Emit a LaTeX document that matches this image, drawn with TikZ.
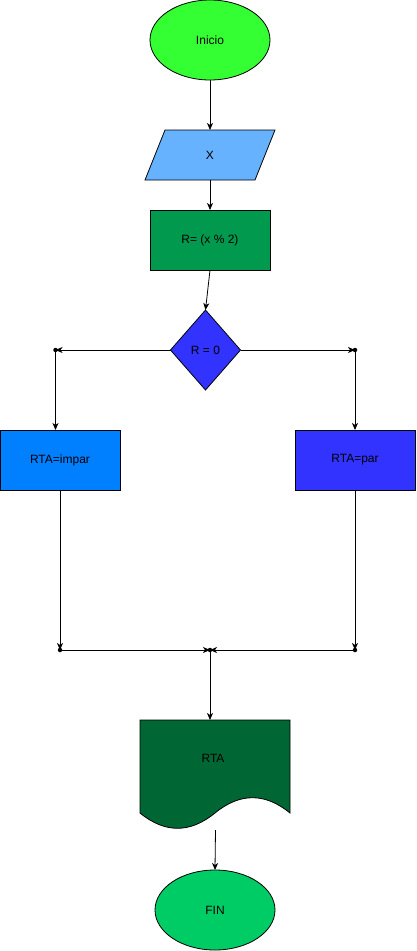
\documentclass[tikz,border=0pt]{standalone}
\usepackage{fontspec}
\setmainfont{Liberation Sans}
\usetikzlibrary{shapes.geometric,arrows.meta}
\definecolor{cInicio}{HTML}{33FF33}
\definecolor{cX}{HTML}{66B2FF}
\definecolor{cR}{HTML}{00994D}
\definecolor{cDia}{HTML}{3333FF}
\definecolor{cImpar}{HTML}{007FFF}
\definecolor{cPar}{HTML}{3333FF}
\definecolor{cDoc}{HTML}{006633}
\definecolor{cFin}{HTML}{00CC66}
\begin{document}
\begin{tikzpicture}[x=1pt,y=-1pt,
  every node/.style={font=\fontsize{12}{14}\selectfont, inner sep=0pt, outer sep=0pt},
  shapebox/.style={draw=black, line width=0.8pt},
  flow/.style={draw=black, line width=0.8pt, -{Stealth[length=7pt,width=6pt,inset=2pt]}},
  plain/.style={draw=black, line width=0.8pt},
  junc/.style={circle, fill=black, minimum size=4.5pt, inner sep=0pt}]
\useasboundingbox (0,0) rectangle (416,951);

\node[shapebox, ellipse, fill=cInicio, minimum width=120pt, minimum height=80pt] (inicio) at (210,40) {Inicio};
\path[shapebox, fill=cX] (165,130) -- (275,130) -- (255,180) -- (145,180) -- cycle;
\node (x) at (210,155) {X};
\coordinate (xtop) at (210,130);
\coordinate (xbot) at (210,180);
\node[shapebox, rectangle, fill=cR, minimum width=120pt, minimum height=60pt] (r) at (210,240) {R= (x \% 2)};
\node[shapebox, diamond, fill=cDia, minimum width=70pt, minimum height=80pt, aspect=0.875] (dia) at (205.5,350) {R = 0};
\node[shapebox, rectangle, fill=cImpar, minimum width=120pt, minimum height=60pt] (impar) at (60,460) {RTA=impar};
\node[shapebox, rectangle, fill=cPar, minimum width=120pt, minimum height=60pt] (par) at (355,460) {RTA=par};

\path[shapebox, fill=cDoc] (140,720) -- (290,720) -- (290,813)
  .. controls (265,792.6) and (240,792.6) .. (215,813)
  .. controls (190,833.4) and (165,833.4) .. (140,813) -- cycle;
\node (rta) at (213,758) {RTA};
\coordinate (doctop) at (210,720);
\coordinate (docbot) at (215.5,830);

\node[shapebox, ellipse, fill=cFin, minimum width=120pt, minimum height=80pt] (fin) at (215,910) {FIN};

\node[junc] (jl) at (55.5,350) {};
\node[junc] (jr) at (355,350) {};
\node[junc] (jbl) at (60,650) {};
\node[junc] (jbr) at (355,650) {};
\node[junc] (jm) at (210,650) {};

\draw[flow] (inicio.south) -- (xtop);
\draw[flow] (xbot) -- (r.north);
\draw[flow] (r.south) -- (dia.north);
\draw[flow] (dia.west) -- (jl.center);
\draw[flow] (dia.east) -- (jr.center);
\draw[flow] (jl.center) -- (impar.north -| jl);
\draw[flow] (jr.center) -- (par.north);
\draw[flow] (impar.south) -- (jbl.center);
\draw[flow] (par.south) -- (jbr.center);
\draw[flow] (jbl.center) -- (jm.center);
\draw[flow] (jbr.center) -- (jm.center);
\draw[flow] (jm.center) -- (doctop);
\draw[flow] (docbot) -- (fin.north);
\end{tikzpicture}
\end{document}
